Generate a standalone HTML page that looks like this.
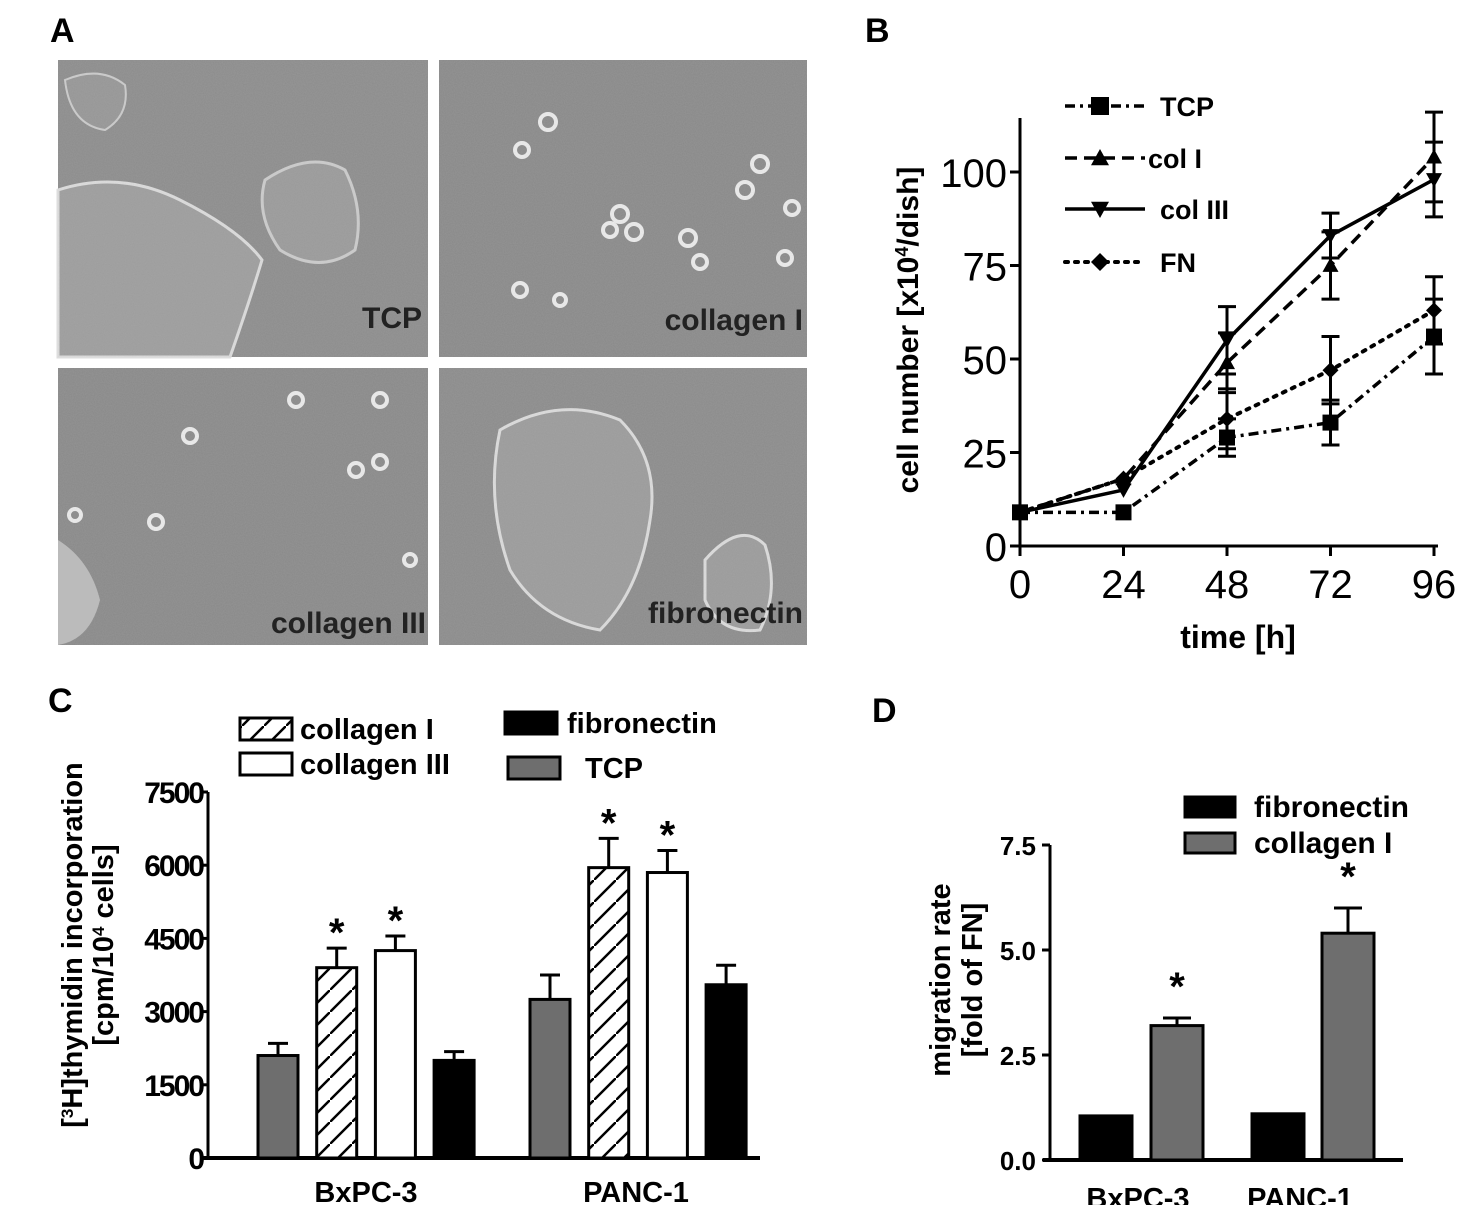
<!DOCTYPE html>
<html><head><meta charset="utf-8"><style>
html,body{margin:0;padding:0;background:#fff}
svg{display:block;font-family:"Liberation Sans",Arial,sans-serif}
</style></head><body>
<svg id="fig" width="1457" height="1205" viewBox="0 0 1457 1205">
<defs>
<pattern id="hatch" patternUnits="userSpaceOnUse" width="22" height="22">
<rect width="22" height="22" fill="#fff"/><line x1="0" y1="22" x2="22" y2="0" stroke="#000" stroke-width="2.5"/>
</pattern>
<filter id="noise" x="0" y="0" width="100%" height="100%" filterUnits="objectBoundingBox"><feTurbulence type="fractalNoise" baseFrequency="0.9" numOctaves="2" seed="3"/><feColorMatrix type="matrix" values="0 0 0 0 0.5  0 0 0 0 0.5  0 0 0 0 0.5  0 0 0 0.25 0"/></filter>
</defs>
<text x="50" y="42" font-size="34" font-weight="bold">A</text>
<text x="865" y="42" font-size="34" font-weight="bold">B</text>
<text x="48" y="712" font-size="34" font-weight="bold">C</text>
<text x="872" y="722" font-size="34" font-weight="bold">D</text>

<g>
<g>
<rect x="58" y="60" width="370" height="297" fill="#8b8b8b"/>
<path d="M58 190 Q120 170 180 200 Q240 230 262 260 Q250 300 230 357 L58 357 Z" fill="#9c9c9c" stroke="#ddd" stroke-width="3"/>
<path d="M265 180 Q310 150 345 170 Q365 210 355 250 Q320 275 280 250 Q255 215 265 180 Z" fill="#999" stroke="#ccc" stroke-width="3"/>
<path d="M65 80 Q100 65 125 85 Q130 115 105 130 Q70 125 65 80 Z" fill="#959595" stroke="#ccc" stroke-width="2"/>
<rect x="58" y="60" width="370" height="297" filter="url(#noise)"/>
<text x="422" y="328" font-size="30" font-weight="bold" text-anchor="end" fill="#222">TCP</text>
</g>
<g>
<rect x="439" y="60" width="368" height="297" fill="#888"/>
<g fill="none" stroke="#eee" stroke-width="4">
<circle cx="548" cy="122" r="8"/><circle cx="522" cy="150" r="7"/><circle cx="620" cy="214" r="8"/><circle cx="634" cy="232" r="8"/><circle cx="610" cy="230" r="7"/><circle cx="688" cy="238" r="8"/><circle cx="760" cy="164" r="8"/><circle cx="745" cy="190" r="8"/><circle cx="792" cy="208" r="7"/><circle cx="785" cy="258" r="7"/><circle cx="700" cy="262" r="7"/><circle cx="520" cy="290" r="7"/><circle cx="560" cy="300" r="6"/></g>
<rect x="439" y="60" width="368" height="297" filter="url(#noise)"/>
<text x="803" y="330" font-size="30" font-weight="bold" text-anchor="end" fill="#222">collagen I</text>
</g>
<g>
<rect x="58" y="368" width="370" height="277" fill="#888"/>
<g fill="none" stroke="#eee" stroke-width="4">
<circle cx="190" cy="436" r="7"/><circle cx="156" cy="522" r="7"/><circle cx="296" cy="400" r="7"/><circle cx="380" cy="400" r="7"/><circle cx="380" cy="462" r="7"/><circle cx="356" cy="470" r="7"/><circle cx="75" cy="515" r="6"/><circle cx="410" cy="560" r="6"/></g>
<path d="M58 540 Q90 560 100 600 Q90 640 58 645 Z" fill="#bbb"/>
<rect x="58" y="368" width="370" height="277" filter="url(#noise)"/>
<text x="426" y="633" font-size="30" font-weight="bold" text-anchor="end" fill="#222">collagen III</text>
</g>
<g>
<rect x="439" y="368" width="368" height="277" fill="#8a8a8a"/>
<path d="M500 430 Q560 395 620 420 Q660 460 650 520 Q640 590 600 630 Q540 620 510 570 Q485 500 500 430 Z" fill="#9a9a9a" stroke="#ddd" stroke-width="3"/>
<path d="M705 560 Q740 520 765 545 Q780 590 760 630 Q720 635 705 600 Z" fill="#9a9a9a" stroke="#ddd" stroke-width="3"/>
<rect x="439" y="368" width="368" height="277" filter="url(#noise)"/>
<text x="803" y="623" font-size="30" font-weight="bold" text-anchor="end" fill="#222">fibronectin</text>
</g>
</g>

<g id="panelB"></g>
<g id="panelC"></g>
<g id="panelD"></g>
</svg>
<script>
// ---------- Panel B data ----------
const bTimes = [0, 24, 48, 72, 96];
const bTicksY = [0, 25, 50, 75, 100];
const bSeriesNames = ["TCP", "col I", "col III", "FN"];
const bTCP = [9, 9, 29, 33, 56];
const bTCPerr = [1, 1, 5, 6, 10];
const bColI = [9, 18, 49, 75, 104];
const bColIerr = [1, 1, 8, 9, 12];
const bColIII = [9, 15, 55, 83, 98];
const bColIIIerr = [1, 1, 9, 6, 10];
const bFN = [9, 18, 34, 47, 63];
const bFNerr = [1, 1, 8, 9, 9];

// ---------- Panel C data ----------
const cGroups = ["BxPC-3", "PANC-1"];
const cCategories = ["TCP", "collagen I", "collagen III", "fibronectin"];
const cBx = [2100, 3900, 4250, 2000];
const cBxErr = [250, 400, 300, 180];
const cPanc = [3250, 5950, 5850, 3550];
const cPancErr = [500, 600, 450, 400];
const cStars = [[false, true, true, false], [false, true, true, false]];
const cTicks = [0, 1500, 3000, 4500, 6000, 7500];

// ---------- Panel D data ----------
const dGroups = ["BxPC-3", "PANC-1"];
const dFN = [1.05, 1.1];
const dColI = [3.2, 5.4];
const dColIErr = [0.18, 0.6];
const dTicks = ["0.0", "2.5", "5.0", "7.5"];

const NS = "http://www.w3.org/2000/svg";
function mk(parent, tag, attrs, text) {
  const e = document.createElementNS(NS, tag);
  for (const k in attrs) e.setAttribute(k, attrs[k]);
  if (text !== undefined) e.textContent = text;
  parent.appendChild(e);
  return e;
}

// ===== Panel B =====
(function () {
  const g = document.getElementById('panelB');
  const x = t => 1020 + t * 4.3125;
  const y = v => 546 - v * 3.74;
  let e;
  e = mk(g, 'line', {x1: 1020, y1: 118, x2: 1020, y2: 546, stroke: '#000', 'stroke-width': 3});
  
  
  e = mk(g, 'line', {x1: 1020, y1: 546, x2: 1438, y2: 546, stroke: '#000', 'stroke-width': 3});
  
  
  bTicksY.forEach(v => {
    mk(g, 'line', {x1: 1010, y1: y(v), x2: 1020, y2: y(v), stroke: '#000', 'stroke-width': 3});
    e = mk(g, 'text', {x: 1007, y: y(v) + 15, 'font-size': 40, 'text-anchor': 'end'}, v);
    
    
  });
  bTimes.forEach(t => {
    mk(g, 'line', {x1: x(t), y1: 546, x2: x(t), y2: 556, stroke: '#000', 'stroke-width': 3});
    e = mk(g, 'text', {x: x(t), y: 598, 'font-size': 40, 'text-anchor': 'middle'}, t);
    
    
  });
  e = mk(g, 'text', {x: 1238, y: 648, 'font-size': 32, 'font-weight': 'bold', 'text-anchor': 'middle'}, 'time [h]');
  
  
  e = mk(g, 'text', {transform: 'translate(918,330) rotate(-90)', 'font-size': 30, 'font-weight': 'bold', 'text-anchor': 'middle'});
  e.innerHTML = 'cell number [x10<tspan dy="-10" font-size="18">4</tspan><tspan dy="10">/dish]</tspan>';
  
  

  const series = [
    {name: 'tcp', vals: bTCP, err: bTCPerr, dash: '10,5,3,5', marker: 'square'},
    {name: 'col-i', vals: bColI, err: bColIerr, dash: '12,7', marker: 'tri'},
    {name: 'col-iii', vals: bColIII, err: bColIIIerr, dash: '', marker: 'itri'},
    {name: 'fn', vals: bFN, err: bFNerr, dash: '3,7', marker: 'diamond'}
  ];
  function marker(parent, type, cx, cy, s) {
    if (type === 'square') return mk(parent, 'rect', {x: cx - s, y: cy - s, width: 2 * s, height: 2 * s, fill: '#000'});
    if (type === 'tri') return mk(parent, 'polygon', {points: `${cx},${cy - s} ${cx - s},${cy + s * 0.8} ${cx + s},${cy + s * 0.8}`, fill: '#000'});
    if (type === 'itri') return mk(parent, 'polygon', {points: `${cx},${cy + s} ${cx - s},${cy - s * 0.8} ${cx + s},${cy - s * 0.8}`, fill: '#000'});
    return mk(parent, 'polygon', {points: `${cx},${cy - s} ${cx + s},${cy} ${cx},${cy + s} ${cx - s},${cy}`, fill: '#000'});
  }
  series.forEach(s => {
    const sg = mk(g, 'g', {});
    
    
    const pts = s.vals.map((v, i) => x(bTimes[i]) + ',' + y(v)).join(' ');
    const ln = mk(sg, 'polyline', {points: pts, fill: 'none', stroke: '#000', 'stroke-width': s.dash === '3,7' ? 4 : 3.5, 'stroke-dasharray': s.dash, 'stroke-linecap': s.dash === '3,7' ? 'round' : 'butt'});
    
    
    s.vals.forEach((v, i) => {
      const cx = x(bTimes[i]);
      if (s.err[i] > 2) {
        mk(sg, 'line', {x1: cx, y1: y(v + s.err[i]), x2: cx, y2: y(v - s.err[i]), stroke: '#000', 'stroke-width': 3});
        mk(sg, 'line', {x1: cx - 9, y1: y(v + s.err[i]), x2: cx + 9, y2: y(v + s.err[i]), stroke: '#000', 'stroke-width': 3});
        mk(sg, 'line', {x1: cx - 9, y1: y(v - s.err[i]), x2: cx + 9, y2: y(v - s.err[i]), stroke: '#000', 'stroke-width': 3});
      }
      const m = marker(sg, s.marker, cx, y(v), 8);
      
      
    });
  });
  const lg = mk(g, 'g', {});
  
  
  const ly = [106, 158, 209, 262];
  series.forEach((s, i) => {
    const ent = mk(lg, 'g', {});
    
    
    mk(ent, 'line', {x1: 1065, y1: ly[i], x2: 1145, y2: ly[i], stroke: '#000', 'stroke-width': s.dash === '3,7' ? 4 : 3.5, 'stroke-dasharray': s.dash || '0', 'stroke-linecap': s.dash === '3,7' ? 'round' : 'butt'});
    marker(ent, s.marker, 1100, ly[i], 9);
    mk(ent, 'text', {x: i === 1 ? 1148 : 1160, y: ly[i] + 10, 'font-size': 27, 'font-weight': 'bold'}, bSeriesNames[i]);
  });
})();

// ===== Panel C =====
(function () {
  const g = document.getElementById('panelC');
  const y = v => 1158 - v * (366 / 7500);
  const groupStart = [258, 530];
  const barW = 40, step = 58.7;
  const fills = ['#6e6e6e', 'url(#hatch)', '#fff', '#000'];
  let e;
  e = mk(g, 'line', {x1: 208, y1: 792, x2: 208, y2: 1158, stroke: '#000', 'stroke-width': 3});
  
  
  e = mk(g, 'line', {x1: 200, y1: 1158, x2: 760, y2: 1158, stroke: '#000', 'stroke-width': 4});
  
  
  cTicks.forEach(v => {
    mk(g, 'line', {x1: 200, y1: y(v), x2: 208, y2: y(v), stroke: '#000', 'stroke-width': 3});
    e = mk(g, 'text', {x: 203, y: y(v) + 11, 'font-size': 30, 'font-weight': 'bold', 'text-anchor': 'end', 'letter-spacing': '-2'}, v);
    
    
  });
  [cBx, cPanc].forEach((vals, gi) => {
    const errs = gi === 0 ? cBxErr : cPancErr;
    vals.forEach((v, i) => {
      const bx = groupStart[gi] + i * step;
      mk(g, 'line', {x1: bx + barW / 2, y1: y(v), x2: bx + barW / 2, y2: y(v + errs[i]), stroke: '#000', 'stroke-width': 3});
      mk(g, 'line', {x1: bx + barW / 2 - 10, y1: y(v + errs[i]), x2: bx + barW / 2 + 10, y2: y(v + errs[i]), stroke: '#000', 'stroke-width': 3});
      const r = mk(g, 'rect', {x: bx, y: y(v), width: barW, height: y(0) - y(v), fill: fills[i], stroke: '#000', 'stroke-width': 3});
      
      
      if (cStars[gi][i]) {
        e = mk(g, 'text', {x: bx + barW / 2, y: y(v + errs[i]) - 2, 'font-size': 40, 'font-weight': 'bold', 'text-anchor': 'middle'}, '*');
        
        
      }
    });
    e = mk(g, 'text', {x: gi === 0 ? 366 : 636, y: 1202, 'font-size': 29, 'font-weight': 'bold', 'text-anchor': 'middle'}, cGroups[gi]);
    
    
  });
  e = mk(g, 'text', {transform: 'translate(82,945) rotate(-90)', 'font-size': 29, 'font-weight': 'bold', 'text-anchor': 'middle'});
  e.innerHTML = '[<tspan dy="-9" font-size="17">3</tspan><tspan dy="9">H]thymidin incorporation</tspan>';
  
  
  e = mk(g, 'text', {transform: 'translate(113,945) rotate(-90)', 'font-size': 29, 'font-weight': 'bold', 'text-anchor': 'middle'});
  e.innerHTML = '[cpm/10<tspan dy="-9" font-size="17">4</tspan><tspan dy="9"> cells]</tspan>';
  
  
  const lg = mk(g, 'g', {});
  
  
  const leg = [[240, 718, 'url(#hatch)', 'collagen I', 300], [240, 753, '#fff', 'collagen III', 300], [505, 712, '#000', 'fibronectin', 567], [508, 757, '#6e6e6e', 'TCP', 585]];
  leg.forEach(l => {
    const ent = mk(lg, 'g', {});
    
    
    mk(ent, 'rect', {x: l[0], y: l[1], width: 52, height: 22, fill: l[2], stroke: '#000', 'stroke-width': 3});
    mk(ent, 'text', {x: l[4], y: l[1] + 21, 'font-size': 29, 'font-weight': 'bold'}, l[3]);
  });
})();

// ===== Panel D =====
(function () {
  const g = document.getElementById('panelD');
  const y = v => 1160 - v * (315 / 7.5);
  const fnX = [1080, 1252], colX = [1151, 1322], w = 52;
  let e;
  e = mk(g, 'line', {x1: 1050, y1: 845, x2: 1050, y2: 1160, stroke: '#000', 'stroke-width': 3});
  
  
  e = mk(g, 'line', {x1: 1043, y1: 1160, x2: 1403, y2: 1160, stroke: '#000', 'stroke-width': 4});
  
  
  dTicks.forEach(t => {
    const v = parseFloat(t);
    mk(g, 'line', {x1: 1042, y1: y(v), x2: 1050, y2: y(v), stroke: '#000', 'stroke-width': 3});
    e = mk(g, 'text', {x: 1036, y: y(v) + 10, 'font-size': 26, 'font-weight': 'bold', 'text-anchor': 'end'}, t);
    
    
  });
  dGroups.forEach((gname, i) => {
    let r = mk(g, 'rect', {x: fnX[i], y: y(dFN[i]), width: w, height: y(0) - y(dFN[i]), fill: '#000', stroke: '#000', 'stroke-width': 3});
    
    
    const top = dColI[i] + dColIErr[i];
    mk(g, 'line', {x1: colX[i] + w / 2, y1: y(dColI[i]), x2: colX[i] + w / 2, y2: y(top), stroke: '#000', 'stroke-width': 3});
    mk(g, 'line', {x1: colX[i] + w / 2 - 14, y1: y(top), x2: colX[i] + w / 2 + 14, y2: y(top), stroke: '#000', 'stroke-width': 3});
    r = mk(g, 'rect', {x: colX[i], y: y(dColI[i]), width: w, height: y(0) - y(dColI[i]), fill: '#6e6e6e', stroke: '#000', 'stroke-width': 3});
    
    
    e = mk(g, 'text', {x: colX[i] + w / 2, y: y(top) - 18, 'font-size': 40, 'font-weight': 'bold', 'text-anchor': 'middle'}, '*');
    
    
    e = mk(g, 'text', {x: i === 0 ? 1138 : 1300, y: 1208, 'font-size': 29, 'font-weight': 'bold', 'text-anchor': 'middle'}, gname);
    
    
  });
  e = mk(g, 'text', {transform: 'translate(950,980) rotate(-90)', 'font-size': 29, 'font-weight': 'bold', 'text-anchor': 'middle'}, 'migration rate');
  
  
  e = mk(g, 'text', {transform: 'translate(982,980) rotate(-90)', 'font-size': 29, 'font-weight': 'bold', 'text-anchor': 'middle'}, '[fold of FN]');
  
  
  const lg = mk(g, 'g', {});
  
  
  [[797, '#000', 'fibronectin'], [833, '#6e6e6e', 'collagen I']].forEach(l => {
    const ent = mk(lg, 'g', {});
    
    
    mk(ent, 'rect', {x: 1185, y: l[0], width: 50, height: 20, fill: l[1], stroke: '#000', 'stroke-width': 3});
    mk(ent, 'text', {x: 1254, y: l[0] + 20, 'font-size': 30, 'font-weight': 'bold'}, l[2]);
  });
})();
</script>
</body></html>
